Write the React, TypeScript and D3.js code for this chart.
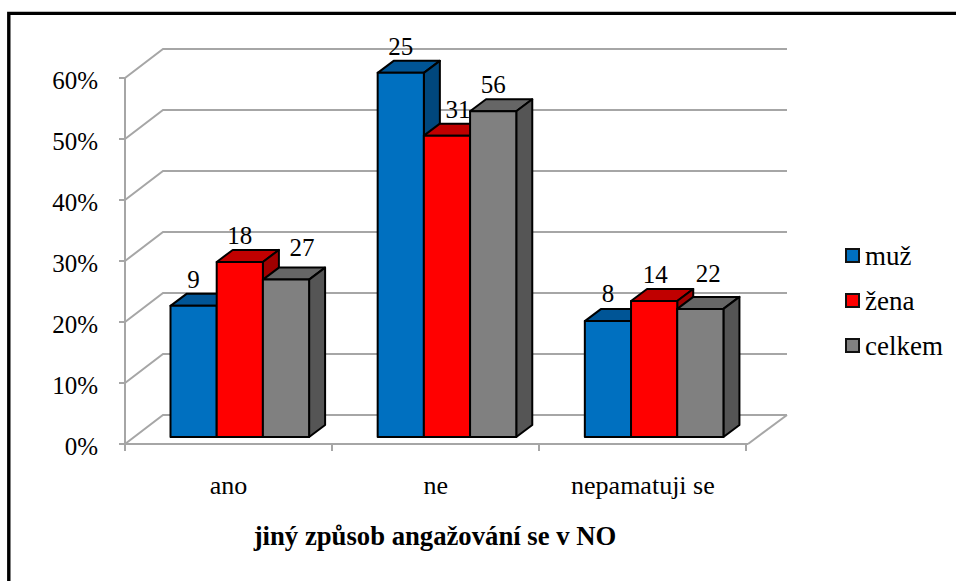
import React from "react";
import * as d3 from "d3";

const categories = ["ano", "ne", "nepamatuji se"];
const seriesNames = ["muž", "žena", "celkem"];
const muz = [21.5, 59.7, 19.0];
const zena = [28.7, 49.4, 22.3];
const celkem = [25.8, 53.4, 21.0];
const muzLabels = ["9", "25", "8"];
const zenaLabels = ["18", "31", "14"];
const celkemLabels = ["27", "56", "22"];
const yTicks = [0, 10, 20, 30, 40, 50, 60];
const colors = ["#0070c0", "#ff0000", "#808080"];
const topColors = ["#005596", "#c00000", "#666666"];
const sideColors = ["#00477d", "#a00000", "#555555"];
// hand-placed data-label nudges [dx, gap above the bar's front top], per series then category
const labelNudges = [
  [[0, 18], [0, 18], [0, 19]],
  [[0, 18], [11, 18], [1, 18]],
  [[16, 24], [0, 18], [8, 27]],
];

const font = "'Liberation Serif', 'Times New Roman', serif";
const grid = "#a6a6a6";

export default function App() {
  const y = d3.scaleLinear().domain([0, 60]).range([444, 78]);
  const x0 = d3.scaleBand<string>().domain(categories).range([125.5, 747]);
  const x1 = d3.scaleBand<string>().domain(seriesNames).range([45, 183.6]);
  const series = [muz, zena, celkem];
  const labels = [muzLabels, zenaLabels, celkemLabels];
  const wallDx = 38, wallDy = -29;
  const rightEnd = 787;
  const frontDy = -7;
  const depthX = 16, depthY = -12;
  const bw = x1.bandwidth();
  const barH = (v: number) => y(0) - y(v);
  const base = y(0) + frontDy;

  return (
    <svg width={956} height={581} style={{ position: "absolute", left: 0, top: 0, background: "#fff" }} fontFamily={font} fill="#000">
      <path d="M8.8,581V13.4H956" fill="none" stroke="#000" strokeWidth={3.4} />
      {yTicks.map((t) => (
        <g key={t} fill="none" stroke={grid} strokeWidth={2}>
          <polyline points={`${125},${y(t)} ${125 + wallDx},${y(t) + wallDy} ${rightEnd},${y(t) + wallDy}`} />
          <line x1={119} x2={125} y1={y(t)} y2={y(t)} />
        </g>
      ))}
      <g fill="none" stroke={grid} strokeWidth={2}>
        <line x1={125} x2={125} y1={y(60)} y2={y(0) + 7} />
        <line x1={125} x2={748} y1={y(0)} y2={y(0)} />
        <line x1={748} x2={rightEnd} y1={y(0)} y2={y(0) + wallDy} />
        {[125, 332, 539, 746].map((t) => <line key={t} x1={t} x2={t} y1={y(0)} y2={y(0) + 7} />)}
      </g>
      {yTicks.map((t) => (
        <text key={t} x={98} y={y(t) + 11} fontSize={25} textAnchor="end">{t}%</text>
      ))}
      {categories.map((c, ci) =>
        seriesNames.map((s, si) => {
          const v = series[si][ci];
          const bx = x0(c)! + x1(s)!;
          const top = base - barH(v);
          return (
            <g key={c + s} stroke="#000" strokeWidth={2} strokeLinejoin="round">
              <path d={`M${bx},${top}L${bx + depthX},${top + depthY}H${bx + bw + depthX}L${bx + bw},${top}Z`} fill={topColors[si]} />
              <path d={`M${bx + bw},${top}L${bx + bw + depthX},${top + depthY}V${base + depthY}L${bx + bw},${base}Z`} fill={sideColors[si]} />
              <rect x={bx} y={top} width={bw} height={base - top} fill={colors[si]} />
            </g>
          );
        })
      )}
      {categories.map((c, ci) =>
        seriesNames.map((s, si) => {
          const v = series[si][ci];
          const bx = x0(c)! + x1(s)!;
          const top = base - barH(v);
          const [dx, gap] = labelNudges[si][ci];
          return (
            <text key={c + s} x={bx + bw / 2 + dx} y={top - gap} fontSize={25} textAnchor="middle">
              {labels[si][ci]}
            </text>
          );
        })
      )}
      {categories.map((c) => (
        <text key={c} x={x0(c)! + x0.bandwidth() / 2 - 0.5} y={494} fontSize={26} textAnchor="middle">{c}</text>
      ))}
      <text x={435} y={545} fontSize={26.7} fontWeight="bold" textAnchor="middle">jiný způsob angažování se v NO</text>
      {seriesNames.map((s, i) => (
        <g key={s}>
          <rect x={846} y={249 + i * 45} width={13} height={13} fill={colors[i]} stroke="#111" strokeWidth={2} />
          <text x={865} y={265 + i * 45} fontSize={27}>{s}</text>
        </g>
      ))}
    </svg>
  );
}
